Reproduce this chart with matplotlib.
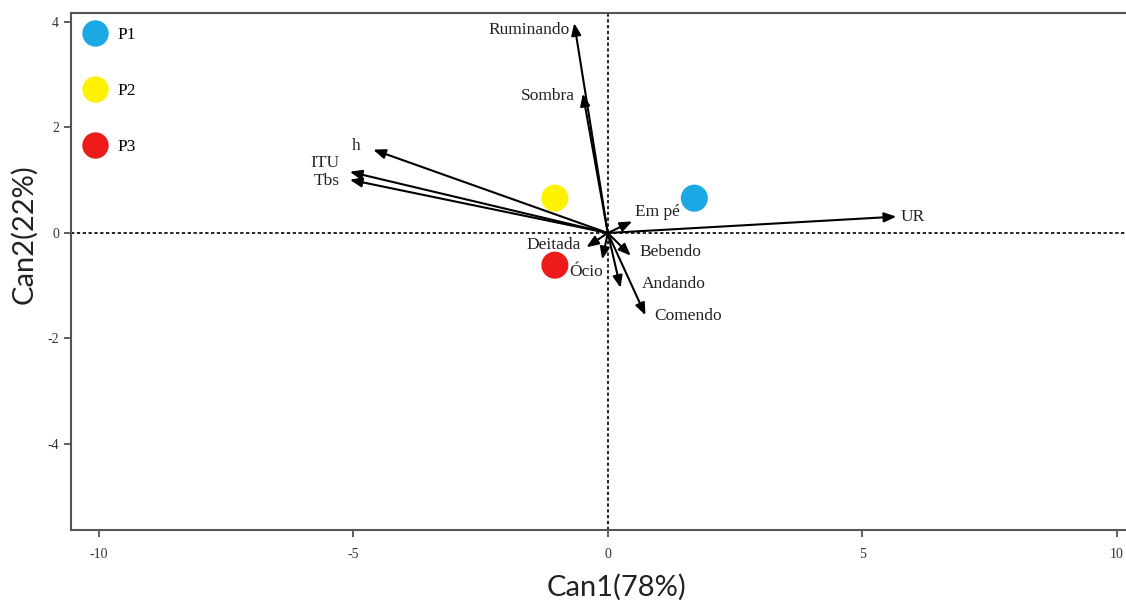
import numpy as np
import matplotlib.pyplot as plt
from matplotlib.lines import Line2D

plt.rcParams['axes.unicode_minus'] = False

# group centroids (canonical scores)
groups = ['P1', 'P2', 'P3']
group_colors = ['#1ba9e6', '#fff200', '#ee1b1b']
can1_groups = [1.70, -1.04, -1.04]
can2_groups = [0.66, 0.66, -0.61]

# variable loadings (arrow tips)
variables = ['Ruminando', 'Sombra', 'h', 'ITU', 'Tbs', 'Em pé', 'UR',
             'Deitada', 'Ócio', 'Bebendo', 'Andando', 'Comendo']
can1_vars = [-0.66, -0.49, -4.61, -5.07, -5.07, 0.48, 5.67,
             -0.42, -0.11, 0.45, 0.25, 0.74]
can2_vars = [3.98, 2.64, 1.58, 1.16, 1.01, 0.22, 0.31,
             -0.27, -0.50, -0.43, -1.04, -1.56]

# label placement (offset in pixels from arrow tip, horizontal alignment)
label_off = [(-5, -7), (-8, -2), (-13, 4), (-10, 9), (-10, -1), (3, 9), (4, 0),
             (-6, 2), (1, -13), (9, 4), (21, 4), (9, -1)]
label_ha = ['right', 'right', 'right', 'right', 'right', 'left', 'left',
            'right', 'right', 'left', 'left', 'left']

serif = 'Liberation Serif'

fig = plt.figure(figsize=(11.26, 6), dpi=100)
ax = fig.add_axes([0.063, 0.1167, 0.940, 0.8616])
ax.set_xlim(-10.55, 10.25)
ax.set_ylim(-5.63, 4.17)

ax.axhline(0, color='black', lw=1.2, ls=(0, (2, 1.5)), zorder=1)
ax.axvline(0, color='black', lw=1.2, ls=(0, (2, 1.5)), zorder=1)

for x, y, name, off, ha in zip(can1_vars, can2_vars, variables, label_off, label_ha):
    ax.annotate('', xy=(x, y), xytext=(0, 0),
                arrowprops=dict(arrowstyle='-|>,head_length=0.6,head_width=0.24',
                                color='black', lw=1.5, shrinkA=0, shrinkB=0,
                                mutation_scale=12), zorder=3)
    ax.annotate(name, xy=(x, y), xytext=off, textcoords='offset pixels',
                ha=ha, va='center', fontsize=12.5, family=serif, color='#222222')

ax.scatter(can1_groups, can2_groups, s=380, c=group_colors, edgecolors='none', zorder=4)

handles = [Line2D([], [], ls='none', marker='o', markersize=19, markerfacecolor=c,
                  markeredgecolor='none') for c in group_colors]
ax.legend(handles, groups, loc='upper left', frameon=False, labelspacing=2.3,
          handletextpad=0.44, borderaxespad=0, borderpad=0.5, handlelength=1.76,
          bbox_to_anchor=(0, 0.99), prop={'family': serif, 'size': 12.5})

ax.set_xticks([-10, -5, 0, 5, 10])
ax.set_yticks([-4, -2, 0, 2, 4])
ax.tick_params(direction='out', length=5, width=1.2, color='#444444',
               labelsize=10, labelcolor='#333333')
for lab in ax.get_xticklabels() + ax.get_yticklabels():
    lab.set_family(serif)
ax.tick_params(axis='x', pad=8)

for sp in ax.spines.values():
    sp.set_color('#555555')
    sp.set_linewidth(1.5)

ax.set_xlabel('Can1(78%)', fontsize=21, family='Lato', labelpad=9.5, color='#222222')
ax.set_ylabel('Can2(22%)', fontsize=21, family='Lato', labelpad=7, color='#222222')
ax.xaxis.label.set_x(0.515)
ax.yaxis.label.set_y(0.573)

fig.savefig('out.png', dpi=100)
